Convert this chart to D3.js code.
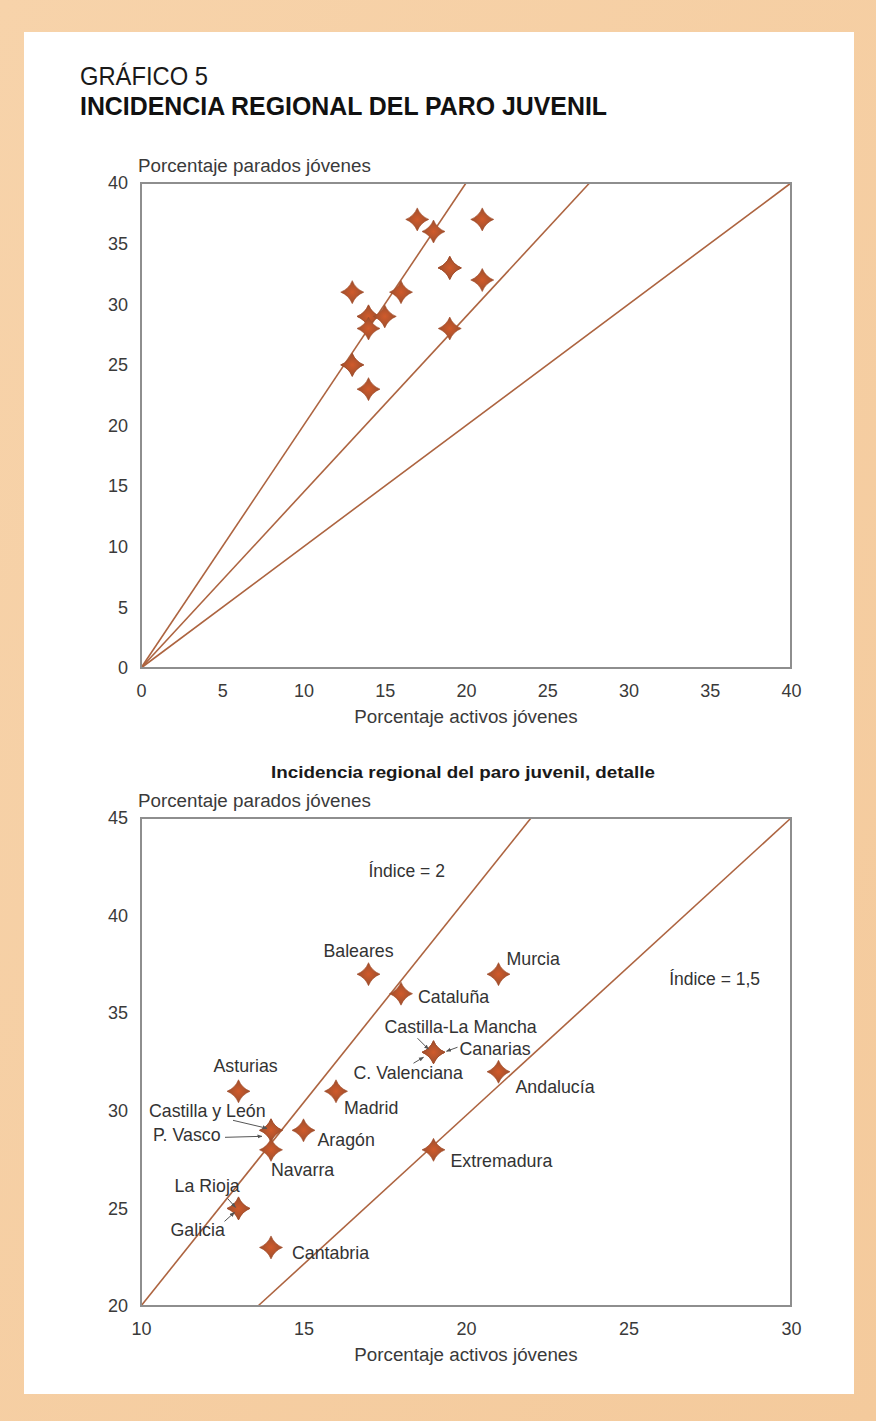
<!DOCTYPE html>
<html><head><meta charset="utf-8">
<script src="https://cdn.jsdelivr.net/npm/d3@7"></script>
<style>
html,body{margin:0;padding:0;background:#fff;}
svg{display:block;font-family:"Liberation Sans",Arial,Helvetica,sans-serif;}
</style></head>
<body>
<script>
// ---------- DATA ----------
const regions = ["Baleares","Murcia","Cataluña","Castilla-La Mancha","Canarias","C. Valenciana","Andalucía","Asturias","Madrid","Castilla y León","P. Vasco","Aragón","Navarra","Extremadura","La Rioja","Galicia","Cantabria"];
const activosJovenes = [17,21,18,19,19,19,21,13,16,14,14,15,14,19,13,13,14];
const paradosJovenes = [37,37,36,33,33,33,32,31,31,29,29,29,28,28,25,25,23];

const topXTicks = [0,5,10,15,20,25,30,35,40];
const topYTicks = [0,5,10,15,20,25,30,35,40];
const detXTicks = [10,15,20,25,30];
const detYTicks = [20,25,30,35,40,45];

// reference lines (start x, start y, end x, end y)
const topLines = [[0,0,20,40],[0,0,27.6,40],[0,0,40,40]];
const detLines = [[10,20,22,45],[13.6,20,30,45]];
const detLineLabels = ["Índice = 2","Índice = 1,5"];
const detLineLabelAt = [[17.0,42.0],[26.25,36.45]];

const titleLine1 = "GRÁFICO 5";
const titleLine2 = "INCIDENCIA REGIONAL DEL PARO JUVENIL";
const subTitle = "Incidencia regional del paro juvenil, detalle";
const yTitle = "Porcentaje parados jóvenes";
const xTitle = "Porcentaje activos jóvenes";

// ---------- LAYOUT ----------
const W = 876, H = 1421;
const svg = d3.select("body").append("svg").attr("width",W).attr("height",H);

const defs = svg.append("defs");
const g1 = defs.append("linearGradient").attr("id","frameGrad").attr("x1","0").attr("y1","0").attr("x2","1").attr("y2","1");
g1.append("stop").attr("offset","0").attr("stop-color","#f7d3aa");
g1.append("stop").attr("offset","1").attr("stop-color","#f4ca9c");
const rg = defs.append("radialGradient").attr("id","markGrad");
rg.append("stop").attr("offset","0").attr("stop-color","#d05a2b");
rg.append("stop").attr("offset","1").attr("stop-color","#9c4f2e");
const mk = defs.append("marker").attr("id","arr").attr("viewBox","0 0 10 10").attr("refX","9").attr("refY","5")
  .attr("markerWidth","5").attr("markerHeight","5").attr("orient","auto");
mk.append("path").attr("d","M0,1 L10,5 L0,9 z").attr("fill","#555");

svg.append("rect").attr("width",W).attr("height",H).attr("fill","url(#frameGrad)");
svg.append("rect").attr("x",24).attr("y",32).attr("width",830).attr("height",1362).attr("fill","#ffffff");

function fitText(sel, w){
  sel.attr("textLength", w).attr("lengthAdjust","spacingAndGlyphs");
}

fitText(svg.append("text").attr("x",80).attr("y",85).attr("font-size",25).attr("fill","#1a1a1a").text(titleLine1),128);
fitText(svg.append("text").attr("x",80).attr("y",115).attr("font-size",25.5).attr("font-weight","bold").attr("fill","#111").text(titleLine2),527);

const starR = 11.5, k = 3.3;
const starPath = `M0,${-starR} Q${k},${-k} ${starR},0 Q${k},${k} 0,${starR} Q${-k},${k} ${-starR},0 Q${-k},${-k} 0,${-starR} Z`;

const pts = regions.map((r,i)=>({name:r,x:activosJovenes[i],y:paradosJovenes[i]}));

function drawChart(cfg){
  const x = d3.scaleLinear().domain(cfg.xd).range([cfg.left,cfg.right]);
  const y = d3.scaleLinear().domain(cfg.yd).range([cfg.bottom,cfg.top]);
  const g = svg.append("g");
  g.selectAll("line.ref").data(cfg.lines).enter().append("line")
    .attr("x1",d=>x(d[0])).attr("y1",d=>y(d[1])).attr("x2",d=>x(d[2])).attr("y2",d=>y(d[3]))
    .attr("stroke","#ad6440").attr("stroke-width",1.6);
  g.append("rect").attr("x",cfg.left).attr("y",cfg.top).attr("width",cfg.right-cfg.left).attr("height",cfg.bottom-cfg.top)
    .attr("fill","none").attr("stroke","#8e8e8e").attr("stroke-width",2);
  const ax = g.append("g").attr("transform",`translate(0,${cfg.bottom})`)
    .call(d3.axisBottom(x).tickValues(cfg.xt).tickSize(0).tickPadding(15).tickFormat(d3.format("d")));
  const ay = g.append("g").attr("transform",`translate(${cfg.left},0)`)
    .call(d3.axisLeft(y).tickValues(cfg.yt).tickSize(0).tickPadding(13).tickFormat(d3.format("d")));
  [ax,ay].forEach(a=>{a.select(".domain").remove();
    a.selectAll("text").attr("font-size",18).attr("fill","#3a3a3a").attr("font-family","Liberation Sans, Arial, sans-serif");});
  ax.selectAll("text").attr("dy","0.8em");
  g.append("text").attr("x",cfg.left-3).attr("y",cfg.top-11).attr("font-size",18.8).attr("fill","#3a3a3a").text(yTitle);
  g.append("text").attr("x",(cfg.left+cfg.right)/2).attr("y",cfg.bottom+55).attr("text-anchor","middle")
    .attr("font-size",18.8).attr("fill","#3a3a3a").text(xTitle);
  g.selectAll("path.pt").data(pts).enter().append("path")
    .attr("d",starPath).attr("transform",d=>`translate(${x(d.x)},${y(d.y)})`)
    .attr("fill","url(#markGrad)").attr("stroke","#a04c2a").attr("stroke-width",0.6);
  return {x,y,g};
}

drawChart({xd:[0,40],yd:[0,40],left:141,right:791,top:183,bottom:668,xt:topXTicks,yt:topYTicks,lines:topLines});

fitText(svg.append("text").attr("x",271).attr("y",778).attr("font-size",16.5)
  .attr("font-weight","bold").attr("fill","#1a1a1a").text(subTitle),384);

const det = drawChart({xd:[10,30],yd:[20,45],left:141,right:791,top:818,bottom:1306,xt:detXTicks,yt:detYTicks,lines:detLines});

det.g.selectAll("text.ll").data(detLineLabels).enter().append("text")
  .attr("x",(d,i)=>det.x(detLineLabelAt[i][0])).attr("y",(d,i)=>det.y(detLineLabelAt[i][1]))
  .attr("font-size",17.5).attr("fill","#333").text(d=>d);

// point label layout: [dx, dy, anchor] in px relative to marker, optional leader [x1,y1,x2,y2] relative
const labelLayout = {
  "Baleares":[-10,-17,"middle"],
  "Murcia":[8,-9,"start"],
  "Cataluña":[17,9,"start"],
  "Castilla-La Mancha":[-49,-19,"start",[-16,-14,-5,-3]],
  "Canarias":[26,3,"start",[24,-5,13,-1]],
  "C. Valenciana":[-80,27,"start",[-20,11,-10,5]],
  "Andalucía":[17,21,"start"],
  "Asturias":[-25,-19,"start"],
  "Madrid":[8,23,"start"],
  "Castilla y León":[-122,-13,"start",[-38,-10,-4,-2]],
  "P. Vasco":[-118,11,"start",[-46,7,-9,6]],
  "Aragón":[14,16,"start"],
  "Navarra":[0,26,"start"],
  "Extremadura":[17,17,"start"],
  "La Rioja":[-64,-16,"start",[-11,-10,-3,-1]],
  "Galicia":[-68,28,"start",[-14,13,-4,4]],
  "Cantabria":[21,12,"start"]
};
pts.forEach(p=>{
  const L = labelLayout[p.name];
  const px = det.x(p.x), py = det.y(p.y);
  det.g.append("text").attr("x",px+L[0]).attr("y",py+L[1]).attr("text-anchor",L[2])
    .attr("font-size",17.8).attr("fill","#333").text(p.name);
  if(L[3]){
    det.g.append("line").attr("x1",px+L[3][0]).attr("y1",py+L[3][1]).attr("x2",px+L[3][2]).attr("y2",py+L[3][3])
      .attr("stroke","#555").attr("stroke-width",1).attr("marker-end","url(#arr)");
  }
});
</script>
</body></html>
